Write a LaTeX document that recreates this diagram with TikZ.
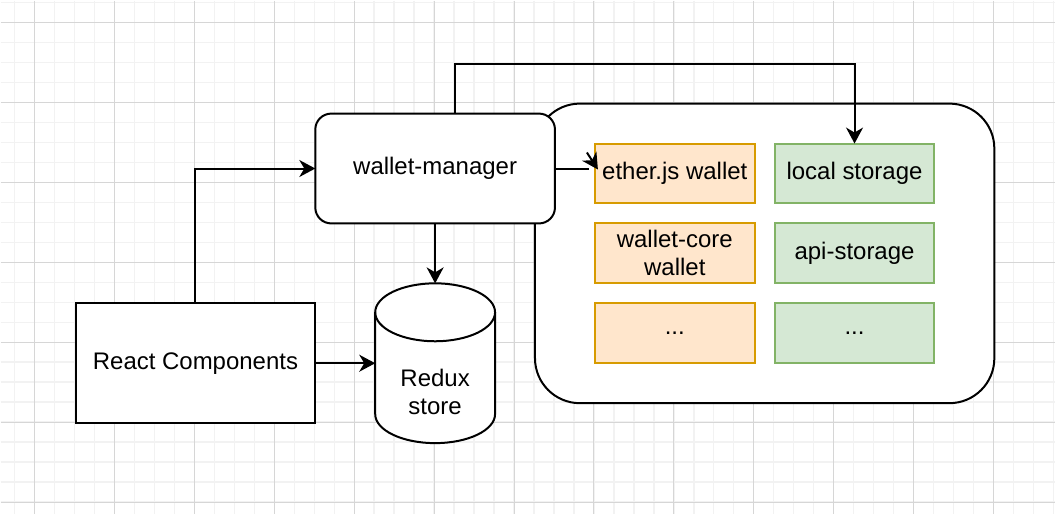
\documentclass[tikz,border=0pt]{standalone}
\usepackage{fontspec}
\setmainfont{Liberation Sans}
\usetikzlibrary{positioning,arrows.meta}

\definecolor{walletfill}{HTML}{FFE6CC}
\definecolor{walletline}{HTML}{D79B00}
\definecolor{storefill}{HTML}{D5E8D4}
\definecolor{storeline}{HTML}{82B366}
\definecolor{gridminor}{HTML}{F2F2F2}
\definecolor{gridmajor}{HTML}{D6D6D6}

\tikzset{
	lbl/.style={font=\fontsize{24}{28}\selectfont, align=center},
	block/.style={lbl, draw, line width=2pt, fill=white, outer sep=0pt, minimum width=240pt},
	wallet/.style={lbl, draw=walletline, fill=walletfill, line width=2pt, outer sep=0pt, minimum width=160pt, minimum height=60pt},
	storage/.style={wallet, draw=storeline, fill=storefill},
	arr/.style={line width=2pt, -{Stealth[length=16pt, width=17pt, inset=5pt]}},
}

\begin{document}
\begin{tikzpicture}[x=1pt, y=-1pt]
			
			% Grid
			\fill[white] (0,0) rectangle (1056,514);
			\foreach \x in {14,34,...,1054} \draw[gridminor, line width=1.5pt] (\x,0) -- (\x,514);
			\foreach \y in {2,22,...,514} \draw[gridminor, line width=1.5pt] (0,\y) -- (1056,\y);
			\foreach \x in {34,114,...,1054} \draw[gridmajor, line width=1pt] (\x,0) -- (\x,514);
			\foreach \y in {22,102,...,514} \draw[gridmajor, line width=1pt] (0,\y) -- (1056,\y);
			\useasboundingbox (0,0) rectangle (1056,514);
			
			% Define nodes
			\node[block, rounded corners=45pt, minimum width=460pt, minimum height=300pt] (wallets) at (765,253) {};
			\node[block, rounded corners=16pt, minimum height=110pt]          (wm) at (435,168) {wallet-manager};
			\node[block, minimum height=120pt]                                (rc) at (195,363) {React Components};
			\node[outer sep=0pt, minimum width=120pt, minimum height=160pt]  (rs) at (435,363) {};
			
			% Redux store cylinder
			\draw[line width=2pt, fill=white] ([yshift=-29pt]rs.north west) -- ([yshift=29pt]rs.south west)
				arc[start angle=180, end angle=360, x radius=60pt, y radius=29pt]
				-- ([yshift=-29pt]rs.north east)
				arc[start angle=0, end angle=180, x radius=60pt, y radius=29pt] -- cycle;
			\draw[line width=2pt] ([yshift=-29pt]rs.north west) arc[start angle=180, end angle=360, x radius=60pt, y radius=29pt];
			\node[lbl] (rs_t) at ([yshift=-29pt]rs.center) {Redux\\store};
			
			\node[wallet]                          (ew) at (675,173) {ether.js wallet};
			\node[wallet, below=20pt of ew]        (wc) {wallet-core\\wallet};
			\node[wallet, below=20pt of wc]        (wo) {...};
			\node[storage, right=20pt of ew]       (ls) {local storage};
			\node[storage, right=20pt of wc]       (as) {api-storage};
			\node[storage, right=20pt of wo]       (so) {...};
			
			% Connect the nodes
			\draw[arr] (rc.north) |- (wm.west);
			\draw[arr] (rc.east) -- (rs.west);
			\draw[arr] (wm.south) -- (rs.north);
			\draw[arr] ([xshift=20pt]wm.north) -- ++(0,-50) -| (ls.north);
			\draw[line width=2pt] (wm.east) -- ++(34,0) coordinate (ew_in);
			\begin{scope}[y=1pt]
				\draw[arr] ([xshift=-2pt, yshift=16pt]ew_in) -- ([xshift=3pt, yshift=4pt]ew.west);
			\end{scope}
			
			\end{tikzpicture}
\end{document}
